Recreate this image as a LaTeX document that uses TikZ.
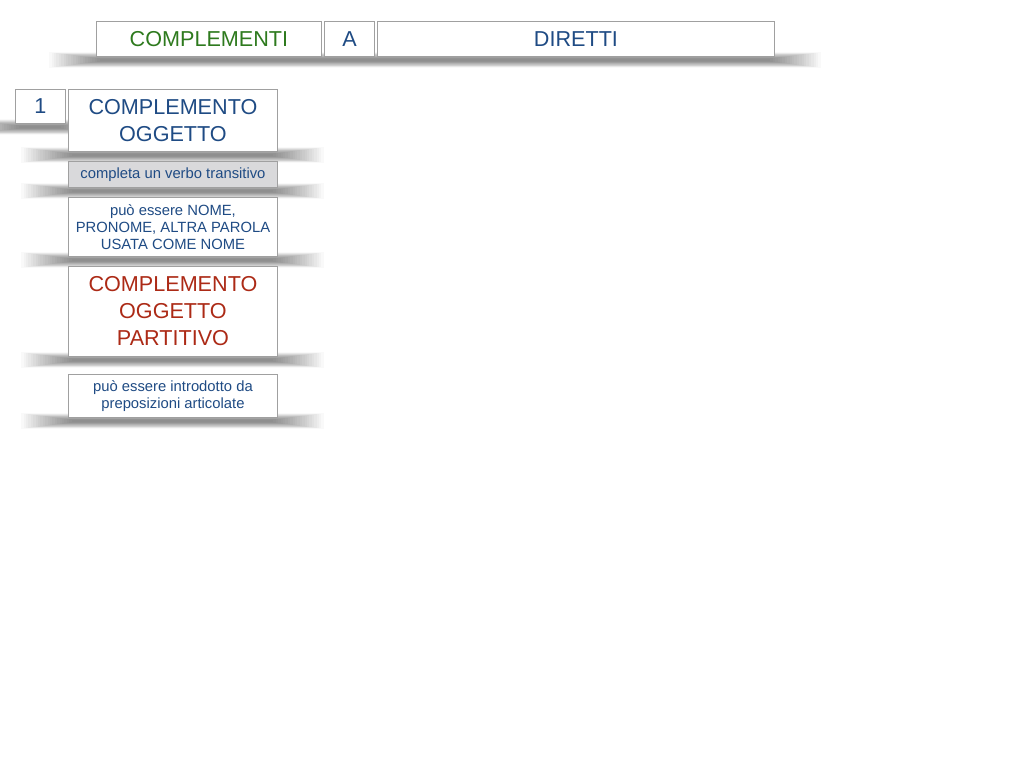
\documentclass[tikz,border=0pt]{standalone}
\usepackage{fontspec}
\setmainfont{Liberation Sans}
\definecolor{tblue}{RGB}{31,75,132}
\definecolor{tgreen}{RGB}{46,122,30}
\definecolor{tred}{RGB}{172,42,22}
\definecolor{tborder}{RGB}{160,160,160}
\definecolor{tgray}{RGB}{217,217,219}
\tikzset{
  box/.style={draw=tborder, line width=0.9pt, fill=white, anchor=north west, inner sep=0pt,
    align=center, text=tblue},
  big/.style={font=\fontsize{21.6}{27}\selectfont},
  small/.style={font=\fontsize{14.8}{17}\selectfont},
  shad/.style={fill=black, fill opacity=0.022},
}
\newcommand{\mkshadow}[3]{% left, right, bottom
  \foreach \i in {1,...,22}{
    \fill[shad] ({#1+6-2.4*\i},{#3+4-1-0.3*\i}) rectangle ({#2-6+2.4*\i},{#3+4+1+0.3*\i});
  }
}
\begin{document}
\begin{tikzpicture}[x=1pt,y=-1pt]
\useasboundingbox (0,0) rectangle (1024,768);
\fill[white] (0,0) rectangle (1024,768);
% shadows
\mkshadow{96}{774}{56}
\mkshadow{15}{65}{123}
\mkshadow{68}{277}{151}
\mkshadow{68}{277}{187}
\mkshadow{68}{277}{256}
\mkshadow{68}{277}{356}
\mkshadow{68}{277}{417}
% boxes
\node[box,big,text=tgreen,minimum width=225pt,minimum height=35pt] (compl) at (96,21) {COMPLEMENTI};
\node[box,big,minimum width=50pt,minimum height=35pt] (a) at (324,21) {A};
\node[box,big,minimum width=397pt,minimum height=35pt] (dir) at (377,21) {DIRETTI};
\node[box,big,minimum width=50pt,minimum height=34pt] (one) at (15,89) {1};
\node[box,big,minimum width=209pt,minimum height=62pt] (co) at (68,89) {COMPLEMENTO\\OGGETTO};
\node[box,small,fill=tgray,minimum width=209pt,minimum height=26pt] (verb) at (68,161) {completa un verbo transitivo};
\node[box,small,minimum width=209pt,minimum height=59pt] (nome) at (68,197) {può essere NOME,\\PRONOME, ALTRA PAROLA\\USATA COME NOME};
\node[box,big,text=tred,minimum width=209pt,minimum height=90pt] (part) at (68,266) {COMPLEMENTO\\OGGETTO\\PARTITIVO};
\node[box,small,minimum width=209pt,minimum height=43pt] (prep) at (68,374) {può essere introdotto da\\preposizioni articolate};
\end{tikzpicture}
\end{document}
